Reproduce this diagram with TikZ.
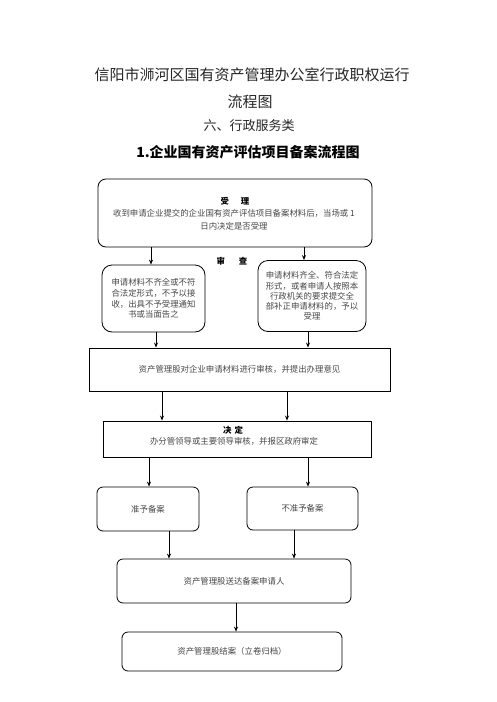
\documentclass[tikz,border=0pt]{standalone}
\usepackage{fontspec}
\setmainfont{Noto Sans CJK SC}
\usetikzlibrary{arrows.meta}
\begin{document}
\begin{tikzpicture}[x=1pt,y=-1pt,
  txt/.style={inner sep=0pt, align=center, text=black!72, font=\fontsize{8.4pt}{10.5pt}\selectfont},
  rbox/.style={draw=black, line width=0.8pt, rounded corners=8pt, inner sep=0pt, align=center, text=black!72, font=\fontsize{8.4pt}{10.5pt}\selectfont},
  sbox/.style={draw=black, line width=0.9pt, inner sep=0pt, align=center, text=black!72, font=\fontsize{8.4pt}{10.5pt}\selectfont},
  arr/.style={draw=black, line width=0.8pt, -{Stealth[length=5pt,width=4pt]}},
  ttl/.style={inner sep=0pt, text=black!85}
]
\useasboundingbox (0,0) rectangle (496,702);
\fill[white] (0,0) rectangle (496,702);

% titles
\node[ttl, font=\fontsize{15pt}{18pt}\selectfont] (h1) at (252,75) {信阳市浉河区国有资产管理办公室行政职权运行};
\node[ttl, font=\fontsize{15pt}{18pt}\selectfont] (h2) at (250,102) {流程图};
\node[ttl, font=\fontsize{13pt}{16pt}\selectfont] (h3) at (249,126) {六、行政服务类};
\node[ttl, font=\fontsize{14pt}{17pt}\selectfont\bfseries, text=black] (h4) at (248,152) {1.企业国有资产评估项目备案流程图};

% boxes
\node[rbox, minimum width=274pt, minimum height=68pt] (b1) at (235,213) {};
\node[txt, font=\fontsize{8.4pt}{10.5pt}\selectfont\bfseries, text=black] (b1t) at (235,201) {受\hspace{12pt}理};
\node[txt, font=\fontsize{8.4pt}{13pt}\selectfont] (b1b) at (234,220) {收到申请企业提交的企业国有资产评估项目备案材料后，当场或 1\\日内决定是否受理};

\node[txt, font=\fontsize{8.4pt}{10.5pt}\selectfont\bfseries, text=black] (sc) at (232,261) {审\hspace{14pt}查};

\node[rbox, rounded corners=10pt, minimum width=103pt, minimum height=67pt, font=\fontsize{8.4pt}{10.6pt}\selectfont] (b2l) at (153.5,298.5) {申请材料不齐全或不符\\合法定形式，不予以接\\收，出具不予受理通知\\书或当面告之};
\node[rbox, rounded corners=10pt, minimum width=108pt, minimum height=71pt, font=\fontsize{8.4pt}{10.2pt}\selectfont] (b2r) at (312,296) {申请材料齐全、符合法定\\形式，或者申请人按照本\\行政机关的要求提交全\\部补正申请材料的，予以\\受理};

\node[sbox, minimum width=301pt, minimum height=43pt] (b3) at (239.5,369.5) {资产管理股对企业申请材料进行审核，并提出办理意见};

\node[sbox, minimum width=268pt, minimum height=36pt] (b4) at (237,439) {};
\node[txt, font=\fontsize{8.4pt}{10.5pt}\selectfont\bfseries, text=black] (b4t) at (233,430) {决\hspace{3pt}定};
\node[txt] (b4b) at (234,441) {办分管领导或主要领导审核，并报区政府审定};

\node[rbox, rounded corners=6pt, minimum width=102pt, minimum height=44pt] (b5l) at (148,509) {准予备案};
\node[rbox, rounded corners=6pt, minimum width=111pt, minimum height=43pt] (b5r) at (302.5,508.5) {不准予备案};

\node[rbox, rounded corners=6pt, minimum width=234pt, minimum height=44pt] (b7) at (234,581) {资产管理股送达备案申请人};
\node[rbox, rounded corners=6pt, minimum width=220pt, minimum height=39pt] (b8) at (232,651.5) {资产管理股结案（立卷归档）};

% connectors
\coordinate (x151) at (151,0);
\coordinate (x304) at (304,0);
\draw[arr] (b1.south -| x151) -- (b2l.north -| x151);
\draw[arr] (b1.south -| x304) -- (b2r.north -| x304);
\coordinate (x156) at (156,0);
\coordinate (x308) at (308,0);
\draw[arr] (b2l.south -| x156) -- (b3.north -| x156);
\draw[arr] (b2r.south -| x308) -- (b3.north -| x308);
\coordinate (x162) at (162,0);
\coordinate (x287) at (287,0);
\draw[arr] (b3.south -| x162) -- (b4.north -| x162);
\draw[arr] (b3.south -| x287) -- (b4.north -| x287);
\coordinate (x149) at (149,0);
\coordinate (x308b) at (308,0);
\draw[arr] (b4.south -| x149) -- (b5l.north -| x149);
\draw[arr] (b4.south -| x308b) -- (b5r.north -| x308b);
\coordinate (x169) at (169,0);
\coordinate (x294) at (294,0);
\draw[arr] (b5l.south -| x169) -- (b7.north -| x169);
\draw[arr] (b5r.south -| x294) -- (b7.north -| x294);
\coordinate (x236) at (236,0);
\draw[arr] (b7.south -| x236) -- (b8.north -| x236);
\end{tikzpicture}
\end{document}
